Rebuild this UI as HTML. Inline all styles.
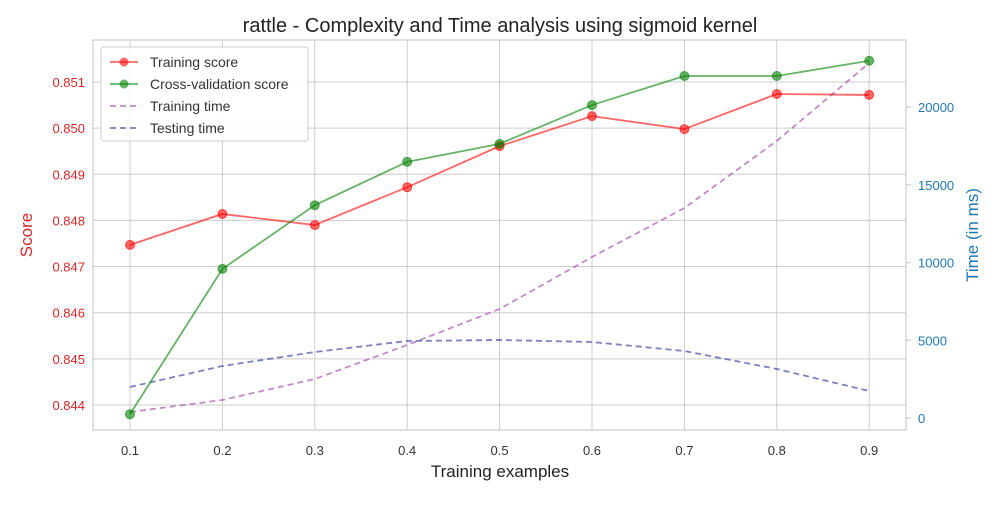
<!DOCTYPE html>
<html><head><meta charset="utf-8"><style>
body{margin:0;background:#fff;font-family:"Liberation Sans","DejaVu Sans",sans-serif;}
</style></head><body>
<svg id="chart" width="1000" height="500" xmlns="http://www.w3.org/2000/svg" font-family="Liberation Sans, DejaVu Sans, sans-serif"></svg>
<script>
const xVals=[0.1,0.2,0.3,0.4,0.5,0.6,0.7,0.8,0.9];
const trainScore=[0.84747,0.84814,0.84790,0.84872,0.84961,0.85026,0.84998,0.85074,0.85072];
const cvScore=[0.84380,0.84695,0.84833,0.84927,0.84966,0.85050,0.85113,0.85113,0.85146];
const trainTime=[386,1158,2508,4695,7010,10354,13505,17814,22830];
const testTime=[1994,3344,4244,4952,5016,4888,4309,3151,1736];
const xTicks=[0.1,0.2,0.3,0.4,0.5,0.6,0.7,0.8,0.9];
const yLTicks=[0.844,0.845,0.846,0.847,0.848,0.849,0.850,0.851];
const yRTicks=[0,5000,10000,15000,20000];

const L=93,R=906,T=40,B=430;
const xs=v=>130+(v-0.1)/0.1*92.4;
const yl=v=>82+(0.851-v)/0.001*46.14;
const yr=v=>418-v/5000*77.75;
const svg=document.getElementById('chart');
const NS='http://www.w3.org/2000/svg';
function mk(tag,attrs,parent){const e=document.createElementNS(NS,tag);for(const k in attrs)e.setAttribute(k,attrs[k]);(parent||svg).appendChild(e);return e;}
function txt(s,attrs){const e=mk('text',attrs);e.textContent=s;return e;}

xTicks.forEach(v=>{const g=mk('line',{x1:xs(v),x2:xs(v),y1:T,y2:B,stroke:'#cccccc','stroke-width':1});

});
yLTicks.forEach(v=>{const g=mk('line',{x1:L,x2:R,y1:yl(v),y2:yl(v),stroke:'#cccccc','stroke-width':1});

});
const frame=mk('rect',{x:L,y:T,width:R-L,height:B-T,fill:'none',stroke:'#cccccc','stroke-width':1.2});



xTicks.forEach(v=>{const t=txt(v.toFixed(1),{x:xs(v),y:455,'text-anchor':'middle','font-size':13,fill:'#333'});

});
yLTicks.forEach(v=>{const t=txt(v.toFixed(3),{x:85,y:yl(v)+5,'text-anchor':'end','font-size':13,fill:'#d62728'});

});
yRTicks.forEach(v=>{const t=txt(String(v),{x:918,y:yr(v)+5,'font-size':13,fill:'#1f77b4'});


const k=mk('line',{x1:R,x2:R+5,y1:yr(v),y2:yr(v),stroke:'#cccccc','stroke-width':1.2});

});

let e;
e=txt('rattle - Complexity and Time analysis using sigmoid kernel',{x:500,y:32,'text-anchor':'middle','font-size':20,fill:'#222'});


e=txt('Training examples',{x:500,y:477,'text-anchor':'middle','font-size':17,fill:'#222'});


e=txt('Score',{x:0,y:0,'text-anchor':'middle','font-size':17,fill:'#d62728',transform:'translate(32,235) rotate(-90)'});


e=txt('Time (in ms)',{x:0,y:0,'text-anchor':'middle','font-size':17,fill:'#1f77b4',transform:'translate(978,235) rotate(-90)'});



function line(vals,ys,color,dash,name,markers){
  const pts=vals.map((v,i)=>xs(xVals[i])+','+ys(v)).join(' ');
  const p=mk('polyline',{points:pts,fill:'none',stroke:color,'stroke-width':1.8,'stroke-opacity':0.6,'stroke-dasharray':dash||'none'});
  
  
  if(markers)vals.forEach((v,i)=>{const c=mk('circle',{cx:xs(xVals[i]),cy:ys(v),r:4.5,fill:color,'fill-opacity':0.6,stroke:color,'stroke-opacity':0.6});
    
    });
}
line(trainTime,yr,'#9b3fa0','6,4','training-time',false);
line(testTime,yr,'#2a2a9a','6,4','testing-time',false);
line(trainScore,yl,'#ff0000',null,'training-score',true);
line(cvScore,yl,'#008000',null,'cv-score',true);

const lg=mk('rect',{x:101,y:47,width:207,height:94,rx:3,fill:'#fff','fill-opacity':0.85,stroke:'#ccc'});


const items=[['Training score','#ff0000',null,true],['Cross-validation score','#008000',null,true],['Training time','#9b3fa0','6,4',false],['Testing time','#2a2a9a','6,4',false]];
items.forEach((it,i)=>{const y=62+i*22;
  const l=mk('line',{x1:110,x2:138,y1:y,y2:y,stroke:it[1],'stroke-opacity':0.6,'stroke-width':1.8,'stroke-dasharray':it[2]||'none'});
  
  
  if(it[3]){const c=mk('circle',{cx:124,cy:y,r:4.5,fill:it[1],'fill-opacity':0.6});
    
    }
  const t=txt(it[0],{x:150,y:y+5,'font-size':14,fill:'#333'});
  
  });
</script>
</body></html>
